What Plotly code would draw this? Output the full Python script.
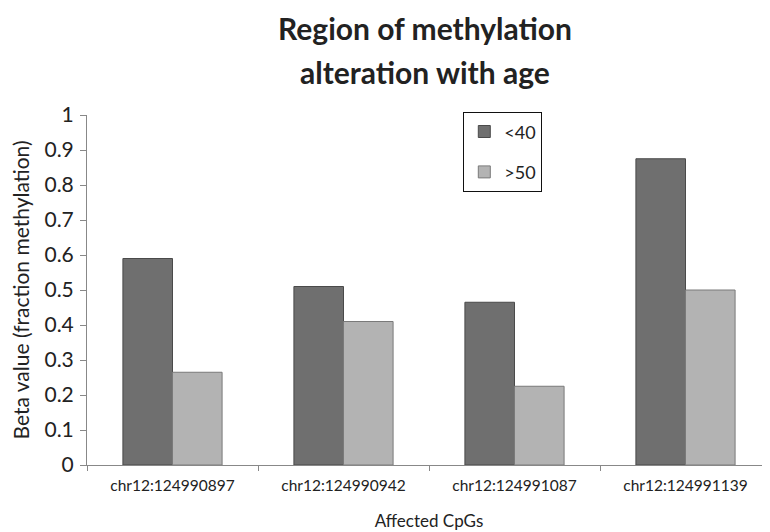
import plotly.graph_objects as go

categories = ["chr12:124990897", "chr12:124990942", "chr12:124991087", "chr12:124991139"]
under40 = [0.59, 0.51, 0.465, 0.875]
over50 = [0.265, 0.41, 0.225, 0.50]
title_lines = ["Region of methylation", "alteration with age"]

fig = go.Figure()
fig.add_trace(go.Bar(x=categories, y=under40, name="<40", legendgroup="a",
                     marker=dict(color="#6f6f6f", line=dict(color="#4a4a4a", width=1))))
fig.add_trace(go.Bar(x=categories, y=over50, name=">50", legendgroup="b",
                     marker=dict(color="#b3b3b3", line=dict(color="#7a7a7a", width=1))))

font = "Lato, 'Open Sans', sans-serif"
L, R, T, B = 79, 7, 107, 75
W, H = 770, 532
pw, ph = W - L - R, H - T - B
fig.update_layout(
    width=W, height=H,
    margin=dict(l=L, r=R, t=T, b=B, autoexpand=False),
    paper_bgcolor="white", plot_bgcolor="white",
    barmode="group", bargap=0.42, bargroupgap=0,
    font=dict(family=font, color="#222"),
    legend=dict(x=(455 - L) / pw, y=1 - (104 - T) / ph, xanchor="left", yanchor="top",
                bordercolor="#111", borderwidth=1.3, bgcolor="white",
                font=dict(size=18, family=font), itemwidth=30,
                tracegroupgap=14, traceorder="grouped"),
    showlegend=True,
)
for txt, ypix in zip(title_lines, [20, 64]):
    fig.add_annotation(text="<b>%s</b>" % txt, xref="paper", yref="paper",
                       x=(417 - L) / pw, y=1 + (T - ypix) / ph,
                       xanchor="center", yanchor="middle", showarrow=False,
                       font=dict(size=30, family=font, color="#222"))
fig.update_xaxes(
    automargin=False,
    showline=True, linecolor="#888", linewidth=1,
    ticks="outside", ticklen=5, tickcolor="#888", tickson="boundaries",
    ticklabelstandoff=6,
    tickfont=dict(size=15.5, family=font, color="#222"),
    title=dict(text="Affected CpGs", font=dict(size=17, family=font), standoff=22),
)
fig.update_yaxes(
    automargin=False,
    range=[0, 1.0], dtick=0.1, tickformat="~g",
    showline=True, linecolor="#888", linewidth=1,
    ticks="outside", ticklen=6, tickcolor="#888",
    showgrid=False, zeroline=False,
    ticklabelstandoff=2,
    tickfont=dict(size=21, family=font, color="#222"),
    title=dict(text="Beta value (fraction methylation)", font=dict(size=21, family=font), standoff=12),
)

fig.write_html("out.html")
